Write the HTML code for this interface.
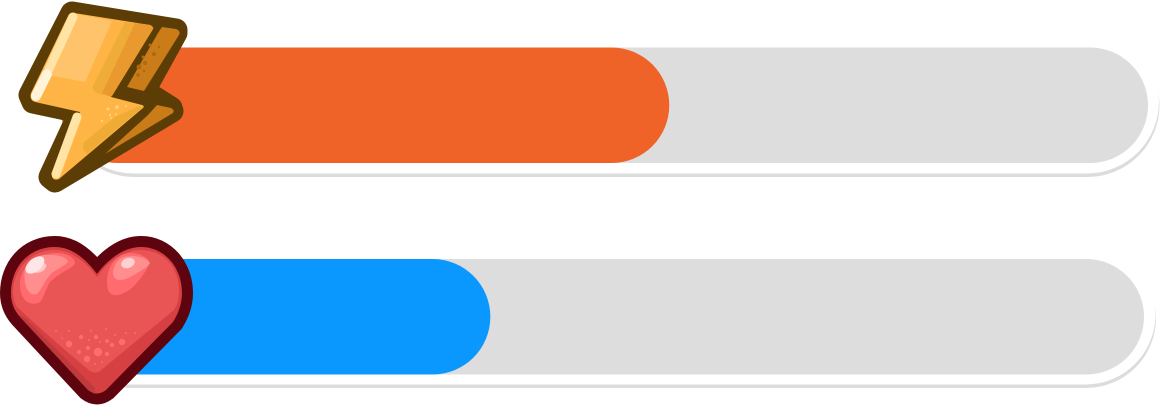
<!DOCTYPE html>
<html lang="en">
<head>
<meta charset="utf-8">
<title>Energy and health bars</title>
<style>
html,body{margin:0;padding:0;background:#fff;width:1160px;height:406px;overflow:hidden}
svg{display:block;position:absolute;left:0;top:0}
</style>
</head>
<body>
<svg id="chart" xmlns="http://www.w3.org/2000/svg" width="1160" height="406" viewBox="0 0 1160 406">
  <g id="bars"></g>

  <g>
    <path d="M72 13 L176 30 L176 33 L144 91 L171 108 L172 111 L55 181 L50 177 L80 112 L33 102 L30 95 Z" fill="#5c3d05" stroke="#5c3d05" stroke-width="23" stroke-linejoin="round"/>
    <path d="M162 27 L176 29 Q181 31 179 35 L144 91 L127 87 L158 33 Z" fill="#c97c17"/>
    <path d="M157 105 L171 108 Q175 110 173 113 L105 154 L148 115 Z" fill="#c97c17"/>
    <path d="M74 13 L150 25 Q154 27 153 29 L111 97 L142 105 Q145 106 143 108 L59 179 Q54 181 52 177 L52 175 L80 112 L35 102 Q29 100 31 93 L68 16 Q70 12 74 13 Z" fill="#ffb545"/>
    <path d="M72 13 L112 21 L85 82 L48 75 Z" fill="#ffc36b"/>
    <path d="M125 22 L150 25 L153 29 L112 96 L102 95 Q91 92 93 86 Z" fill="#f0ac38"/>
    <path d="M135 23 L150 25 Q154 27 153 29 L111 97 L102 93 Z" fill="#ea992e"/>
    <path d="M143 107 L87 154 Q81 149 84 142 L115 117 L139 106 Z" fill="#f0ab37"/>
    <g fill="none" stroke-linecap="round">
      <path d="M73 17 L49 69" stroke="#ffe4a6" stroke-width="9"/>
      <path d="M47 74 L36 96" stroke="#fff3da" stroke-width="10"/>
      <path d="M77 117 L56 174" stroke="#ffe4a6" stroke-width="9"/>
    </g>
    <g fill="#ad6a12">
      <circle cx="139" cy="67" r="2.5"/><circle cx="145" cy="63" r="2"/><circle cx="154" cy="54" r="2"/><circle cx="143" cy="57" r="1.5"/>
      <circle cx="150" cy="45" r="1.5"/><circle cx="159" cy="47" r="1.2"/><circle cx="144" cy="71" r="1.2"/><circle cx="138" cy="75" r="1.8"/>
    </g>
    <g fill="#ffd27f">
      <circle cx="117" cy="107" r="2"/><circle cx="108" cy="109" r="1.5"/><circle cx="110" cy="115" r="1.2"/><circle cx="102" cy="121" r="1.2"/>
      <circle cx="126" cy="106" r="1"/><circle cx="116" cy="114" r="1"/><circle cx="111" cy="118" r="1"/>
    </g>
  </g>

  <g>
    <path d="M97 274 C88 262 74 247 55 247 C28 247 11 268 11 293 C11 303 14 310 20 317 L88 390 Q97 397 106 390 L173 322 C178 314 182 304 182 293 C182 268 165 247 141 247 C122 247 106 262 97 274 Z" fill="#d64043" stroke="#5e040f" stroke-width="22" stroke-linejoin="round" paint-order="stroke"/>
    <path d="M19 315 L20 317 L88 390 L95 394 L95 388 L26 319 Z" fill="#c0393b"/>
    <path d="M97 277 C88 264 72 250 55 250 C30 250 13 270 13 292 C13 298 14 302 17 307 Q50 338 90 371 Q95 374 100 371 Q140 338 174 310 C178 304 179 298 179 291 C179 268 165 250 140 250 C122 250 106 264 97 277 Z" fill="#e95455"/>
    <path d="M20 282 C22 264 38 253 57 253 C67 253 75 258 75 263 C74 268 60 272 50 282 C45 290 44 298 40 302 C32 307 19 302 20 282 Z" fill="#ff6b6e"/>
    <path d="M25 268 C30 258 40 254 50 255 C60 255 68 258 68 262 C62 268 54 270 50 275 C44 282 42 288 38 293 C32 298 22 290 25 268 Z" fill="#ff8f8f"/>
    <ellipse cx="40" cy="268" rx="7" ry="4" transform="rotate(-30 40 268)" fill="#ffc4c4"/>
    <ellipse cx="35" cy="265" rx="11" ry="6.5" transform="rotate(-40 35 265)" fill="#ffe6e6"/>
    <path d="M107 282 C107 270 112 260 122 255 C134 250 148 256 150 263 C146 272 138 282 133 287 C126 293 118 296 113 295 C108 293 107 288 107 282 Z" fill="#ff6b6e"/>
    <path d="M113 272 C114 264 118 259 124 257 C132 255 146 256 150 263 C146 268 141 271 137 273 C130 278 124 280 120 280 C115 280 113 277 113 272 Z" fill="#ff8f8f"/>
    <ellipse cx="128" cy="263" rx="7" ry="5" transform="rotate(-20 128 263)" fill="#ffd0d0"/>
    <g fill="#ff6b6e">
      <circle cx="69" cy="344" r="3.2"/><circle cx="98" cy="352" r="4.2"/><circle cx="87" cy="359" r="3.2"/><circle cx="122" cy="342" r="3.2"/>
      <circle cx="81" cy="337" r="2.2"/><circle cx="96" cy="337" r="2.2"/><circle cx="107" cy="341" r="2"/><circle cx="112" cy="345" r="2.2"/>
      <circle cx="88" cy="348" r="2.2"/><circle cx="79" cy="352" r="2"/><circle cx="107" cy="354" r="2.2"/><circle cx="62" cy="338" r="1"/>
      <circle cx="56" cy="331" r="1"/><circle cx="69" cy="331" r="1"/><circle cx="91" cy="331" r="1"/><circle cx="106" cy="329" r="1"/>
      <circle cx="115" cy="335" r="1"/><circle cx="126" cy="333" r="1"/><circle cx="135" cy="333" r="1"/><circle cx="100" cy="342" r="1"/>
      <circle cx="89" cy="340" r="1"/><circle cx="95" cy="364" r="1"/><circle cx="102" cy="362" r="1"/>
    </g>
  </g>
</svg>
<script>
const barNames = ['energy', 'health'];
const barValues = [56, 39.7];
const barColors = ['#ef6329', '#0a98ff'];
const axisMax = 100;

const layer = document.getElementById('bars');
const NS = 'http://www.w3.org/2000/svg';

function scaleX(value, left, right) {
  return left + (value / axisMax) * (right - left);
}

function addRect(x, y, w, h, r, fill) {
  const el = document.createElementNS(NS, 'rect');
  el.setAttribute('x', x);
  el.setAttribute('y', y);
  el.setAttribute('width', w);
  el.setAttribute('height', h);
  el.setAttribute('rx', r);
  el.setAttribute('ry', r);
  el.setAttribute('fill', fill);
  layer.appendChild(el);
  return el;
}

function drawBar(i, trackTop, trackRight, shellCenter, shellRadius, shellRight) {
  const left = 60;
  const shellLeft = 62;
  const height = 115.5;
  const radius = height / 2;
  const name = barNames[i];

  const edge = addRect(shellLeft, shellCenter - shellRadius, shellRight - shellLeft, shellRadius * 2, shellRadius, '#dcdcdc');
  
  

  const inner = addRect(shellLeft, shellCenter - shellRadius - 3.5, shellRight - shellLeft - 0.5, shellRadius * 2, shellRadius, '#ffffff');
  
  

  const track = addRect(left, trackTop, trackRight - left, height, radius, '#dddddd');
  
  

  const fillRight = scaleX(barValues[i], left, trackRight);
  const fill = addRect(left, trackTop, fillRight - left, height, radius, barColors[i]);
  
  
}

drawBar(0, 47.5, 1148, 105, 72, 1159.5);
drawBar(1, 259, 1144, 318, 70, 1156);
</script>
</body>
</html>
